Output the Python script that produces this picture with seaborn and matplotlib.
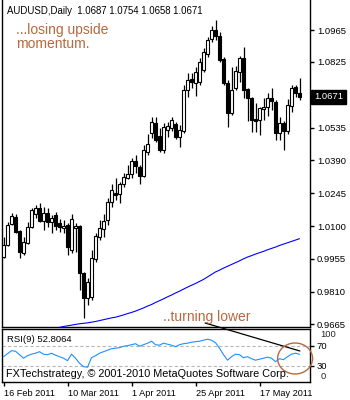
import numpy as np
import pandas as pd
import matplotlib
matplotlib.use("Agg")
import matplotlib.pyplot as plt
import matplotlib.transforms as mtransforms
from matplotlib.patches import Ellipse
import seaborn as sns

# ---------------- data ----------------
title_text = "AUDUSD,Daily  1.0687 1.0754 1.0658 1.0671"
rsi_label = "RSI(9) 52.8064"
note_top = "...losing upside\nmomentum."
note_bottom = "..turning lower"
credit = "FXTechstrategy, \u00a9 2001-2010 MetaQuotes Software Corp."

opens = [0.9963, 1.0016, 1.0109, 1.0140, 1.0078, 0.9981, 1.0025, 1.0096, 1.0153, 1.0180,
         1.0122, 1.0158, 1.0118, 1.0149, 1.0113, 1.0091, 1.0105, 0.9994, 1.0091, 1.0100,
         0.9892, 0.9782, 0.9786, 0.9954, 1.0052, 1.0087, 1.0127, 1.0206, 1.0246, 1.0242,
         1.0286, 1.0312, 1.0330, 1.0387, 1.0361, 1.0321, 1.0427, 1.0511, 1.0555, 1.0498,
         1.0436, 1.0524, 1.0533, 1.0551, 1.0494, 1.0520, 1.0701, 1.0750, 1.0732, 1.0737,
         1.0790, 1.0860, 1.0927, 1.0966, 1.0940, 1.0838, 1.0732, 1.0600, 1.0710, 1.0781,
         1.0843, 1.0706, 1.0666, 1.0573, 1.0569, 1.0617, 1.0626, 1.0666, 1.0648, 1.0511,
         1.0555, 1.0520, 1.0631, 1.0715, 1.0687]
highs = [1.0052, 1.0118, 1.0158, 1.0153, 1.0082, 1.0052, 1.0118, 1.0180, 1.0193, 1.0202,
         1.0184, 1.0180, 1.0149, 1.0162, 1.0131, 1.0127, 1.0113, 1.0153, 1.0113, 1.0105,
         0.9897, 0.9870, 0.9994, 1.0069, 1.0127, 1.0153, 1.0224, 1.0286, 1.0312, 1.0295,
         1.0334, 1.0370, 1.0401, 1.0414, 1.0370, 1.0458, 1.0507, 1.0582, 1.0582, 1.0533,
         1.0555, 1.0560, 1.0582, 1.0560, 1.0547, 1.0723, 1.0776, 1.0776, 1.0803, 1.0843,
         1.0887, 1.0936, 1.0984, 1.1011, 1.0958, 1.0847, 1.0745, 1.0803, 1.0807, 1.0852,
         1.0891, 1.0710, 1.0670, 1.0644, 1.0626, 1.0666, 1.0688, 1.0710, 1.0657, 1.0582,
         1.0564, 1.0661, 1.0723, 1.0723, 1.0754]
lows = [0.9959, 1.0012, 1.0105, 1.0069, 0.9959, 0.9972, 1.0021, 1.0091, 1.0136, 1.0118,
        1.0082, 1.0096, 1.0069, 1.0082, 1.0074, 1.0069, 0.9972, 0.9981, 0.9985, 0.9817,
        0.9694, 0.9751, 0.9773, 0.9941, 1.0038, 1.0052, 1.0105, 1.0184, 1.0215, 1.0202,
        1.0273, 1.0308, 1.0312, 1.0334, 1.0286, 1.0317, 1.0414, 1.0489, 1.0471, 1.0427,
        1.0423, 1.0494, 1.0520, 1.0485, 1.0449, 1.0511, 1.0670, 1.0710, 1.0675, 1.0723,
        1.0781, 1.0847, 1.0913, 1.0922, 1.0825, 1.0723, 1.0538, 1.0591, 1.0701, 1.0737,
        1.0666, 1.0564, 1.0516, 1.0516, 1.0502, 1.0569, 1.0586, 1.0613, 1.0480, 1.0480,
        1.0436, 1.0507, 1.0604, 1.0670, 1.0658]
closes = [1.0016, 1.0105, 1.0144, 1.0074, 0.9985, 1.0029, 1.0096, 1.0171, 1.0180, 1.0122,
          1.0158, 1.0118, 1.0136, 1.0100, 1.0096, 1.0100, 1.0007, 1.0131, 1.0100, 0.9892,
          0.9782, 0.9853, 0.9959, 1.0056, 1.0091, 1.0122, 1.0206, 1.0259, 1.0237, 1.0286,
          1.0317, 1.0330, 1.0387, 1.0365, 1.0321, 1.0436, 1.0463, 1.0560, 1.0480, 1.0436,
          1.0538, 1.0542, 1.0569, 1.0494, 1.0524, 1.0701, 1.0745, 1.0737, 1.0781, 1.0825,
          1.0869, 1.0922, 1.0966, 1.0940, 1.0834, 1.0732, 1.0600, 1.0701, 1.0785, 1.0843,
          1.0701, 1.0666, 1.0569, 1.0564, 1.0622, 1.0626, 1.0666, 1.0653, 1.0511, 1.0555,
          1.0520, 1.0635, 1.0710, 1.0688, 1.0671]

ma_start = 13
ma_values = [0.9647, 0.9652, 0.9656, 0.9659, 0.9662, 0.9665, 0.9668, 0.9670, 0.9672, 0.9675,
             0.9678, 0.9682, 0.9686, 0.9690, 0.9694, 0.9697, 0.9702, 0.9707, 0.9713, 0.9718,
             0.9724, 0.9731, 0.9738, 0.9746, 0.9753, 0.9762, 0.9770, 0.9778, 0.9787, 0.9795,
             0.9804, 0.9812, 0.9821, 0.9830, 0.9838, 0.9846, 0.9855, 0.9864, 0.9875, 0.9886,
             0.9897, 0.9905, 0.9914, 0.9922, 0.9930, 0.9938, 0.9946, 0.9955, 0.9963, 0.9969,
             0.9976, 0.9982, 0.9988, 0.9995, 1.0001, 1.0007, 1.0014, 1.0020, 1.0026, 1.0032,
             1.0038, 1.0044]

rsi_values = [48, 54, 60, 59, 52, 45, 50, 53, 55, 58,
              53, 52, 55, 51, 48, 45, 40, 53, 45, 35,
              28, 27, 46, 50, 55, 58, 61, 64, 65, 66,
              69, 70, 72, 74, 69, 72, 75, 79, 72, 71,
              75, 73, 71, 68, 72, 74, 75, 77, 78, 79,
              81, 83, 81, 76, 65, 52, 41, 48, 53, 52,
              46, 48, 44, 41, 43, 45, 47, 45, 38, 44,
              42, 48, 53, 55, 52.8064]

price_ticks = [1.0965, 1.0825, 1.0535, 1.0390, 1.0245, 1.0100, 0.9955, 0.9810, 0.9665]
last_price = 1.0671
date_ticks = [0, 16, 32, 48, 64]
date_labels = ["16 Feb 2011", "10 Mar 2011", "1 Apr 2011", "25 Apr 2011", "17 May 2011"]
rsi_levels = [70, 30]
trend_x = [50.4, 74.1]
trend_y = [115.4, 59.4]
circle_center = (72.9, 44.4)

# ---------------- style ----------------
sns.set_theme(style="white")
plt.rcParams['font.family'] = ['Liberation Sans', 'DejaVu Sans']

W, H = 350, 400
fig = plt.figure(figsize=(W / 100, H / 100), dpi=100)
fig.patch.set_facecolor("white")


def frac(x0, y0, x1, y1):
    return [x0 / W, 1 - y1 / H, (x1 - x0) / W, (y1 - y0) / H]


ax = fig.add_axes(frac(2, 0, 310, 327))
axr = fig.add_axes(frac(2, 329, 310, 382))

n = len(closes)
df = pd.DataFrame({"i": np.arange(n), "open": opens, "high": highs,
                   "low": lows, "close": closes})
df["up"] = df["close"] >= df["open"]
df["bottom"] = df[["open", "close"]].min(axis=1)
df["height"] = (df["close"] - df["open"]).abs().clip(lower=0.00025)

XMIN, XMAX = -0.375, 76.625

# wicks
ax.vlines(df["i"], df["low"], df["high"], color="black", lw=0.9, zorder=2)
# bodies
ax.bar(df["i"], df["height"], bottom=df["bottom"], width=0.6,
       color=np.where(df["up"], "white", "black"), edgecolor="black",
       linewidth=0.8, zorder=3)

ma_df = pd.DataFrame({"i": np.arange(ma_start, ma_start + len(ma_values)), "ma": ma_values})
sns.lineplot(data=ma_df, x="i", y="ma", ax=ax, color="#0000ff", lw=0.8, zorder=4)

ax.set_xlim(XMIN, XMAX)
ax.set_ylim(0.96537, 1.10990)
ax.set_xlabel("")
ax.set_ylabel("")
ax.set_xticks([])
ax.yaxis.tick_right()
ax.set_yticks(price_ticks)
ax.set_yticklabels([f"{v:.4f}" for v in price_ticks])
ax.tick_params(axis="y", right=True, left=False, labelright=True, labelleft=False,
               length=3, width=1, pad=2, labelsize=6.8, colors="black", direction="out")
for s in ["left", "right", "bottom"]:
    ax.spines[s].set_color("black")
    ax.spines[s].set_linewidth(1)
ax.spines["top"].set_visible(False)
ax.set_facecolor("white")

# current price box
trans = mtransforms.blended_transform_factory(ax.transAxes, ax.transData)
ax.text(1.014, last_price, f"{last_price:.4f}", transform=trans, ha="left", va="center",
        fontsize=6.8, color="white",
        bbox=dict(boxstyle="square,pad=0.3", fc="black", ec="black"), clip_on=False)

# ---------------- RSI ----------------
rsi_df = pd.DataFrame({"i": np.arange(n), "rsi": rsi_values})
sns.lineplot(data=rsi_df, x="i", y="rsi", ax=axr, color="#1e90ff", lw=0.8, zorder=3)
for lv in rsi_levels:
    axr.axhline(lv, color="#b8b8b8", lw=0.8, ls=(0, (3, 2)), zorder=1)
axr.set_xlim(XMIN, XMAX)
axr.set_ylim(-2.6, 103.4)
axr.set_xlabel("")
axr.set_ylabel("")
axr.yaxis.tick_right()
axr.set_yticks(rsi_levels)
axr.set_yticklabels([str(v) for v in rsi_levels])
axr.tick_params(axis="y", right=True, left=False, labelright=True, labelleft=False,
                length=3, width=1, pad=2, labelsize=6.8, colors="black")
rtrans = mtransforms.blended_transform_factory(axr.transAxes, axr.transData)
axr.text(1.035, 92, "100", transform=rtrans, ha="left", va="center", fontsize=6.8)
axr.text(1.035, 9, "0", transform=rtrans, ha="left", va="center", fontsize=6.8)
axr.set_xticks(date_ticks)
axr.set_xticklabels(date_labels, ha="left")
axr.tick_params(axis="x", bottom=True, length=3, width=1, pad=2, labelsize=6.6,
                colors="black", direction="out")
for s in axr.spines.values():
    s.set_color("black")
    s.set_linewidth(1)
axr.set_facecolor("white")

# trend line and circle
axr.plot(trend_x, trend_y, color="black", lw=0.9, clip_on=False, zorder=6)
axr.add_patch(Ellipse(circle_center, width=8.75, height=62, fill=False,
                      ec="#b5693f", lw=1.0, clip_on=False, zorder=6))

# ---------------- texts ----------------
brown = "#b5693f"
fig.text(7 / W, 1 - 11 / H, title_text, fontsize=6.9, ha="left", va="center",
         color="black", bbox=dict(boxstyle="square,pad=0.2", fc="white", ec="none"))
fig.text(16 / W, 1 - 23 / H, note_top, fontsize=10, ha="left", va="top",
         color=brown, linespacing=1.0)
fig.text(163 / W, 1 - 317 / H, note_bottom, fontsize=10, ha="left", va="center",
         color=brown)
fig.text(7 / W, 1 - 340 / H, rsi_label, fontsize=6.8, ha="left", va="center", color="black")
fig.text(6 / W, 1 - 374 / H, credit, fontsize=7.8, ha="left", va="center", color="black")

fig.savefig("out.png", dpi=100)
